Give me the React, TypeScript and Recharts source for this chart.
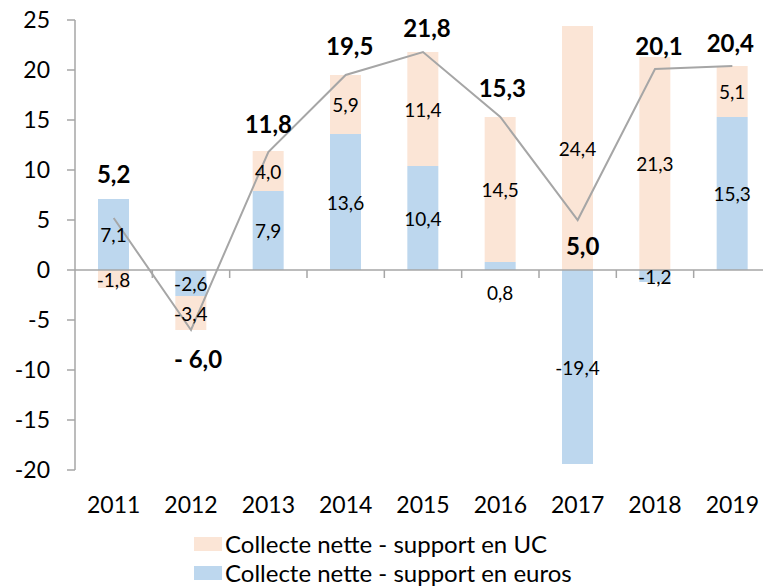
import React from "react";
import {
  ComposedChart,
  Bar,
  Line,
  XAxis,
  YAxis,
  Legend,
  LabelList,
  ReferenceLine,
} from "recharts";

const years = ["2011", "2012", "2013", "2014", "2015", "2016", "2017", "2018", "2019"];
const euros = [7.1, -2.6, 7.9, 13.6, 10.4, 0.8, -19.4, -1.2, 15.3];
const uc = [-1.8, -3.4, 4.0, 5.9, 11.4, 14.5, 24.4, 21.3, 5.1];
const total = [5.2, -6.0, 11.8, 19.5, 21.8, 15.3, 5.0, 20.1, 20.4];
const yTicks = [-20, -15, -10, -5, 0, 5, 10, 15, 20, 25];

// hand placed total labels, like in the source workbook
const totalLabelDy = [-45, 28, -29, -30, -25, -30, 25, -24, -24];
const totalLabelDx = [0, 7, 0, 4, 4, 2, 5, 4, -2];

const FONT = "Lato, 'Open Sans', sans-serif";
const AXIS = "#A6A6A6";
const BLUE = "#BDD7EE";
const PEACH = "#FBE5D6";

const fmt = (v: number) => v.toFixed(1).replace(".", ",");

const chartData = years.map((year, i) => ({
  year,
  euros: euros[i],
  uc: uc[i],
  total: total[i],
}));

const BarValue = (props: any) => {
  const { x, y, width, height, value } = props;
  const cx = x + width / 2;
  let cy = y + height / 2;
  if (Math.abs(value) < 1) cy = Math.max(y, y + height) + 22;
  return (
    <text x={cx} y={cy} textAnchor="middle" dominantBaseline="central" fontSize={19} fontFamily={FONT} fill="#000">
      {fmt(value)}
    </text>
  );
};

const TotalValue = (props: any) => {
  const { x, y, value, index } = props;
  const txt = value < 0 ? "- " + fmt(Math.abs(value)) : fmt(value);
  return (
    <text
      x={x + totalLabelDx[index]}
      y={y + totalLabelDy[index]}
      textAnchor="middle"
      dominantBaseline="central"
      fontSize={24}
      fontWeight="bold"
      fontFamily={FONT}
      fill="#000"
    >
      {txt}
    </text>
  );
};

const ZeroAxis = (props: any) => {
  const { x1, x2, y1 } = props;
  const step = (x2 - x1) / years.length;
  return (
    <g>
      <line x1={x1} x2={x2} y1={y1} y2={y1} stroke={AXIS} strokeWidth={1.5} />
      {years.map((_, i) => (
        <line key={i} x1={x1 + step * (i + 1)} x2={x1 + step * (i + 1)} y1={y1} y2={y1 + 8} stroke={AXIS} strokeWidth={1.5} />
      ))}
    </g>
  );
};

const LegendBox = () => {
  const items = [
    { color: PEACH, label: "Collecte nette - support en UC" },
    { color: BLUE, label: "Collecte nette - support en euros" },
  ];
  return (
    <div style={{ fontFamily: FONT, fontSize: 24, lineHeight: "28px", color: "#000" }}>
      {items.map((it) => (
        <div key={it.label} style={{ display: "flex", alignItems: "center", height: 29 }}>
          <span style={{ display: "inline-block", width: 28, height: 14, background: it.color, marginRight: 3 }} />
          <span>{it.label}</span>
        </div>
      ))}
    </div>
  );
};

export default function App() {
  return (
    <div style={{ position: "absolute", left: 0, top: 0, width: 763, height: 588, overflow: "hidden", background: "#fff" }}>
      <ComposedChart
        width={790}
        height={588}
        data={chartData}
        stackOffset="sign"
        margin={{ top: 20, right: 19, left: 0, bottom: 68 }}
      >
        <XAxis
          dataKey="year"
          axisLine={false}
          tickLine={false}
          tickSize={0}
          tickMargin={27}
          height={50}
          tick={{ fontSize: 23, fontFamily: FONT, fill: "#000" }}
          interval={0}
        />
        <YAxis
          domain={[-20, 25]}
          ticks={yTicks}
          width={75}
          axisLine={{ stroke: AXIS, strokeWidth: 1.5 }}
          tickLine={{ stroke: AXIS, strokeWidth: 1.5 }}
          tickSize={8}
          tickMargin={17}
          tick={{ fontSize: 23, fontFamily: FONT, fill: "#000" }}
          allowDataOverflow
        />
        <ReferenceLine y={0} shape={ZeroAxis} />
        <Bar dataKey="euros" stackId="a" fill={BLUE} barSize={31} isAnimationActive={false}>
          <LabelList dataKey="euros" content={BarValue} />
        </Bar>
        <Bar dataKey="uc" stackId="a" fill={PEACH} barSize={31} isAnimationActive={false}>
          <LabelList dataKey="uc" content={BarValue} />
        </Bar>
        <Line dataKey="total" type="linear" stroke={AXIS} strokeWidth={2} dot={false} isAnimationActive={false}>
          <LabelList dataKey="total" content={TotalValue} />
        </Line>
        <Legend
          layout="vertical"
          align="center"
          verticalAlign="middle"
          content={LegendBox}
          wrapperStyle={{ top: 529, left: 194, width: 450, height: 58 }}
        />
      </ComposedChart>
    </div>
  );
}
